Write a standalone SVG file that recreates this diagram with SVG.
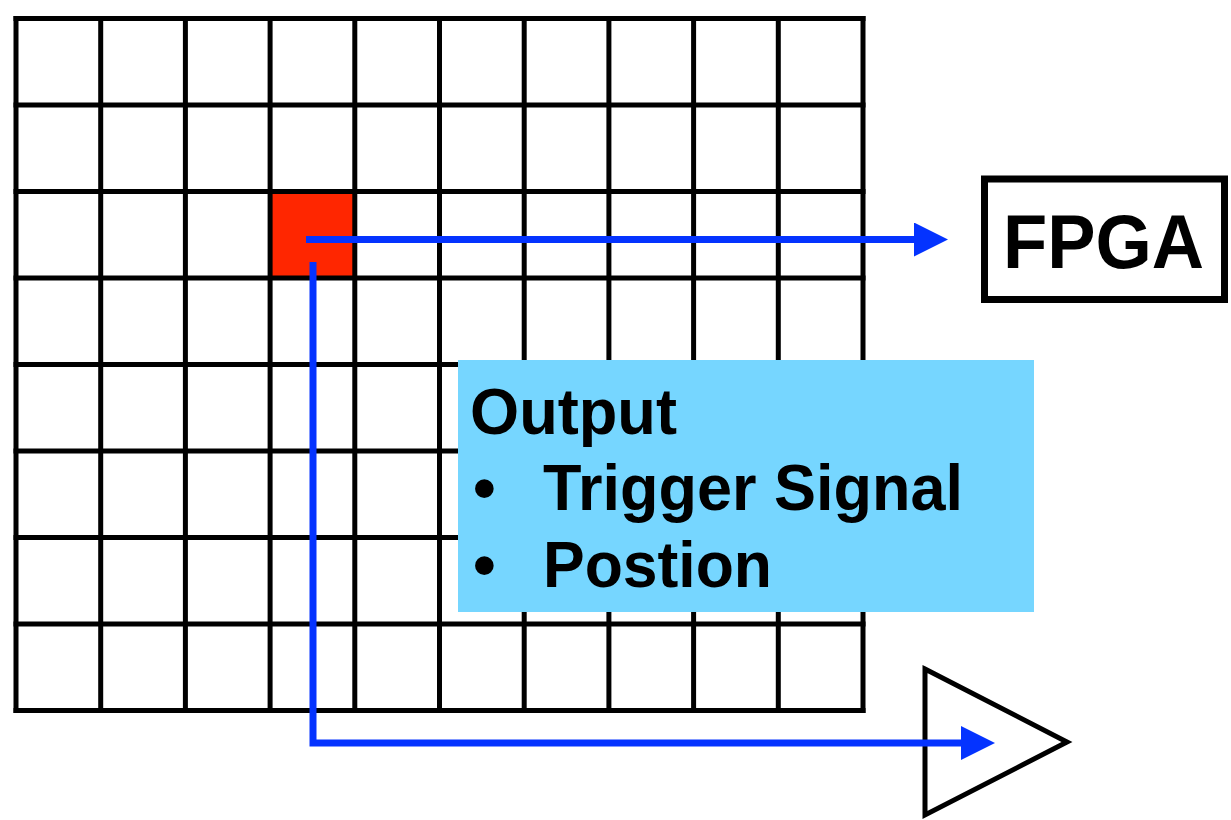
<svg xmlns="http://www.w3.org/2000/svg" width="1231" height="820" viewBox="0 0 1231 820">
<style>
.grid line{stroke:#000;stroke-width:5;stroke-linecap:square}
.conn{fill:none;stroke:#0433FF;stroke-width:7;stroke-linejoin:miter}
.t{font-family:"Liberation Sans",Arial,sans-serif;font-weight:bold;fill:#000}
</style>
<defs>
<marker id="ah" viewBox="0 0 34 34" refX="0" refY="17" markerWidth="34" markerHeight="34" markerUnits="userSpaceOnUse" orient="auto">
<path d="M0,0 L34,17 L0,34 z" fill="#0433FF"/>
</marker>
</defs>
<rect width="1231" height="820" fill="#fff"/>
<g id="grid" class="grid">
<rect id="pixel" x="270.1" y="191.5" width="84.7" height="86.5" fill="#FF2600"/>
<line x1="16" y1="18.5" x2="16" y2="710.5"/>
<line x1="100.7" y1="18.5" x2="100.7" y2="710.5"/>
<line x1="185.4" y1="18.5" x2="185.4" y2="710.5"/>
<line x1="270.1" y1="18.5" x2="270.1" y2="710.5"/>
<line x1="354.8" y1="18.5" x2="354.8" y2="710.5"/>
<line x1="439.5" y1="18.5" x2="439.5" y2="710.5"/>
<line x1="524.2" y1="18.5" x2="524.2" y2="710.5"/>
<line x1="608.9" y1="18.5" x2="608.9" y2="710.5"/>
<line x1="693.6" y1="18.5" x2="693.6" y2="710.5"/>
<line x1="778.3" y1="18.5" x2="778.3" y2="710.5"/>
<line x1="863" y1="18.5" x2="863" y2="710.5"/>
<line x1="16" y1="18.5" x2="863" y2="18.5"/>
<line x1="16" y1="105" x2="863" y2="105"/>
<line x1="16" y1="191.5" x2="863" y2="191.5"/>
<line x1="16" y1="278" x2="863" y2="278"/>
<line x1="16" y1="364.5" x2="863" y2="364.5"/>
<line x1="16" y1="451" x2="863" y2="451"/>
<line x1="16" y1="537.5" x2="863" y2="537.5"/>
<line x1="16" y1="624" x2="863" y2="624"/>
<line x1="16" y1="710.5" x2="863" y2="710.5"/>
</g>
<g id="output-box">
<rect x="458" y="360" width="576" height="252" fill="#76D6FF"/>
<text class="t" font-size="65" x="470" y="434" textLength="207" lengthAdjust="spacingAndGlyphs">Output</text>
<text class="t" font-size="65" y="510"><tspan x="473">•</tspan><tspan x="543" textLength="420" lengthAdjust="spacingAndGlyphs">Trigger Signal</tspan></text>
<text class="t" font-size="65" y="587"><tspan x="473">•</tspan><tspan x="543" textLength="229" lengthAdjust="spacingAndGlyphs">Postion</tspan></text>
</g>
<g id="fpga">
<rect x="984.5" y="179" width="240" height="120.5" fill="#fff" stroke="#000" stroke-width="7"/>
<text class="t" font-size="76" x="1003" y="268" textLength="201" lengthAdjust="spacingAndGlyphs">FPGA</text>
</g>
<g id="amplifier">
<polygon points="925,669 1067,742 925,815" fill="#fff" stroke="#000" stroke-width="5" stroke-linejoin="miter"/>
</g>
<g id="connectors">
<path class="conn" d="M306,239.5 H914" marker-end="url(#ah)"/>
<path class="conn" d="M313,262 V743 H961" marker-end="url(#ah)"/>
</g>
</svg>
